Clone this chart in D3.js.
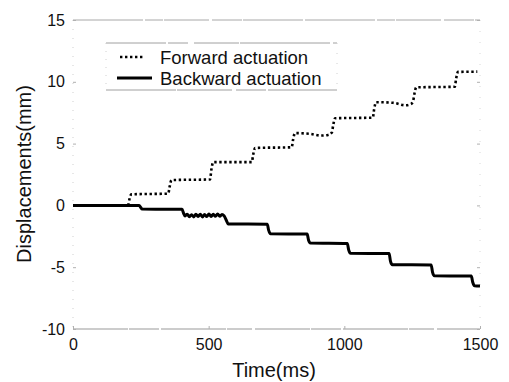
<!DOCTYPE html>
<html>
<head>
<meta charset="utf-8">
<script src="https://cdn.jsdelivr.net/npm/d3@7"></script>
<style>
body { margin: 0; background: #fff; }
svg { font-family: "Liberation Sans", Arial, sans-serif; }
</style>
</head>
<body>
<svg id="chart"></svg>
<script>
var forwardTime = [0, 203, 208, 215, 351, 356, 363, 505, 510, 517, 659, 664, 671, 806, 811, 818, 870, 915, 940, 954, 959, 966, 1105, 1110, 1117, 1180, 1225, 1245, 1253, 1258, 1265, 1407, 1412, 1419, 1490]
var forwardDisp = [0, 0, 0.5, 0.9, 0.95, 1.5, 2.05, 2.1, 2.9, 3.5, 3.5, 4.1, 4.65, 4.7, 5.3, 5.85, 5.8, 5.65, 5.7, 5.9, 6.5, 7.05, 7.1, 7.8, 8.35, 8.3, 8.1, 8.2, 8.4, 9.0, 9.55, 9.6, 10.25, 10.8, 10.82]

var backwardTime = [0, 244, 249, 255, 402, 407, 413, 421, 429, 437, 445, 453, 461, 469, 477, 485, 493, 501, 509, 517, 525, 533, 541, 549, 557, 565, 572, 716, 721, 728, 863, 868, 875, 1011, 1016, 1023, 1165, 1170, 1177, 1320, 1325, 1332, 1468, 1473, 1480, 1500]
var backwardDisp = [0, 0, -0.15, -0.3, -0.32, -0.6, -0.85, -0.72, -0.92, -0.75, -0.93, -0.72, -0.9, -0.72, -0.93, -0.74, -0.9, -0.7, -0.9, -0.72, -0.88, -0.7, -0.88, -0.73, -0.85, -1.2, -1.5, -1.52, -2.0, -2.3, -2.32, -2.8, -3.05, -3.08, -3.6, -3.88, -3.9, -4.5, -4.8, -4.82, -5.4, -5.7, -5.72, -6.2, -6.5, -6.52]

var xTicks = [0, 500, 1000, 1500]
var yTicks = [-10, -5, 0, 5, 10, 15]
var seriesNames = ["Forward actuation", "Backward actuation"]

var width = 509
var height = 382
var margins = {"top": 20, "left": 73, "bottom": 53, "right": 29}

var svg = d3.select("#chart")
.attr("width", width)
.attr("height", height)

var x = d3.scaleLinear().domain([0, 1500]).range([margins.left, width - margins.right])
var y = d3.scaleLinear().domain([-10, 15]).range([height - margins.bottom, margins.top])

//frame, faint like a scan
svg.append("line")
.attr("x1", x(0)).attr("x2", x(1500)).attr("y1", y(15)).attr("y2", y(15))
.attr("stroke", "#a8a8a8").attr("stroke-dasharray", "70,2,18,1,45,3,30,1,60,2")
svg.append("line")
.attr("x1", x(0)).attr("x2", x(1500)).attr("y1", y(-10)).attr("y2", y(-10))
.attr("stroke", "#999").attr("stroke-dasharray", "55,1,30,2,65,1,25,3")
svg.append("line")
.attr("x1", x(0)).attr("x2", x(0)).attr("y1", y(15)).attr("y2", y(-10))
.attr("stroke", "#cfcfcf").attr("stroke-dasharray", "1,8")
svg.append("line")
.attr("x1", x(1500)).attr("x2", x(1500)).attr("y1", y(15)).attr("y2", y(-10))
.attr("stroke", "#d8d8d8").attr("stroke-dasharray", "1,10")

//axes
var xAxis = svg.append("g")
.attr("transform", "translate(0," + y(-10) + ")")
.call(d3.axisBottom(x).tickValues(xTicks).tickSize(-3).tickPadding(10).tickFormat(d3.format("d")))
var yAxis = svg.append("g")
.attr("transform", "translate(" + x(0) + ",0)")
.call(d3.axisLeft(y).tickValues(yTicks).tickSize(-3).tickPadding(8).tickFormat(d => d < 0 ? "-" + Math.abs(d) : d))
var yAxisRight = svg.append("g")
.attr("transform", "translate(" + x(1500) + ",0)")
.call(d3.axisRight(y).tickValues(yTicks).tickSize(-3).tickFormat(""))

svg.selectAll(".domain").remove()
svg.selectAll(".tick line").attr("stroke", "#b0b0b0")
svg.selectAll(".tick text")
.attr("fill", "#111")
.style("font-size", "16px")
.style("font-family", "Liberation Sans, Arial, sans-serif")

//axis titles
svg.append("text")
.attr("x", 274).attr("y", 377)
.attr("text-anchor", "middle")
.style("font-size", "20px").attr("fill", "#111")
.text("Time(ms)")
svg.append("text")
.attr("transform", "translate(31,174) rotate(-90)")
.attr("text-anchor", "middle")
.style("font-size", "20px").attr("fill", "#111")
.text("Displacements(mm)")

//series
var line = d3.line()
.curve(d3.curveMonotoneX)
.x(d => x(d[0]))
.y(d => y(d[1]))

var forward = forwardTime.map((t, i) => [t, forwardDisp[i]])
var backward = backwardTime.map((t, i) => [t, backwardDisp[i]])

svg.append("path")
.datum(backward)
.attr("d", line)
.attr("fill", "none")
.attr("stroke", "#000")
.attr("stroke-width", 3)
.attr("stroke-linejoin", "round")

svg.append("path")
.datum(forward)
.attr("d", line)
.attr("fill", "none")
.attr("stroke", "#000")
.attr("stroke-width", 2.6)
.attr("stroke-dasharray", "2.4,2.6")

//legend
var lg = svg.append("g")
lg.append("line").attr("x1", 106).attr("x2", 337).attr("y1", 43).attr("y2", 43)
.attr("stroke", "#a0a0a0").attr("stroke-dasharray", "60,2,20,6,45,1,90,3")
lg.append("line").attr("x1", 106).attr("x2", 337).attr("y1", 90).attr("y2", 90)
.attr("stroke", "#a0a0a0").attr("stroke-dasharray", "70,1,55,4,30,2,70,1")
lg.append("line").attr("x1", 106).attr("x2", 106).attr("y1", 43).attr("y2", 90)
.attr("stroke", "#d0d0d0").attr("stroke-dasharray", "1,7")
lg.append("line").attr("x1", 337).attr("x2", 337).attr("y1", 43).attr("y2", 90)
.attr("stroke", "#d0d0d0").attr("stroke-dasharray", "1,9")

lg.append("line").attr("x1", 120).attr("x2", 144).attr("y1", 57).attr("y2", 57)
.attr("stroke", "#000").attr("stroke-width", 2.6).attr("stroke-dasharray", "2.4,2.6")
lg.append("line").attr("x1", 117).attr("x2", 152).attr("y1", 78).attr("y2", 78)
.attr("stroke", "#000").attr("stroke-width", 3)

lg.selectAll(".lab")
.data(seriesNames)
.enter().append("text")
.attr("class", "lab")
.attr("x", 160)
.attr("y", (d, i) => 63.5 + i * 21.5)
.style("font-size", "18.5px")
.attr("fill", "#111")
.text(d => d)
</script>
</body>
</html>
